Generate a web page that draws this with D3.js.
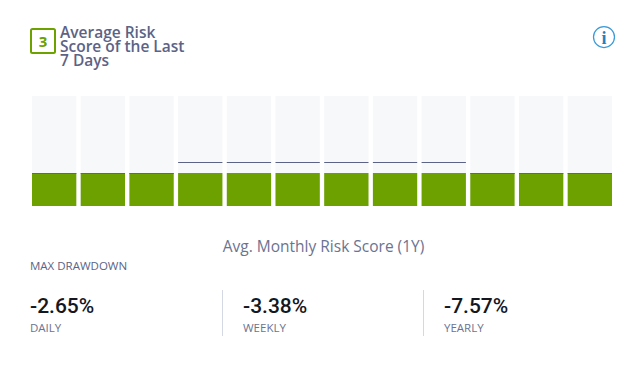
<!DOCTYPE html>
<html>
<head>
<meta charset="utf-8">
<script src="https://cdn.jsdelivr.net/npm/d3@7"></script>
<style>
	html, body { margin: 0; padding: 0; background: #fff; overflow: hidden; }
	text { font-family: "Open Sans", sans-serif; }
</style>
</head>
<body>
<div id="chart"></div>
<script>
// Monthly values
const months = ["M1", "M2", "M3", "M4", "M5", "M6", "M7", "M8", "M9", "M10", "M11", "M12"];
const barValues = [3, 3, 3, 3, 3, 3, 3, 3, 3, 3, 3, 3];
const markerValues = [3, 3, 3, 4, 4, 4, 4, 4, 4, 3, 3, 3];
const titleLines = ["Average Risk", "Score of the Last", "7 Days"];
const drawdownLabels = ["DAILY", "WEEKLY", "YEARLY"];
const drawdownValues = ["-2.65%", "-3.38%", "-7.57%"];

const width = 643,
	height = 378;

const svg = d3
	.select("#chart")
	.append("svg")
	.attr("width", width)
	.attr("height", height);

// Scales
const x = d3.scaleBand().domain(months).range([32, 612]).paddingInner(0.09);
const y = d3.scaleLinear().domain([0, 10]).range([206, 96]);

// Track behind each bar
svg
	.append("g")
	.selectAll("rect")
	.data(months)
	.join("rect")
	.attr("x", (d) => x(d))
	.attr("y", y(10))
	.attr("width", x.bandwidth())
	.attr("height", y(0) - y(10))
	.attr("fill", "#f7f8fa");

// Green bars
svg
	.append("g")
	.selectAll("rect")
	.data(barValues)
	.join("rect")
	.attr("x", (d, i) => x(months[i]))
	.attr("y", (d) => y(d))
	.attr("width", x.bandwidth())
	.attr("height", (d) => y(0) - y(d))
	.attr("fill", "#6ca100");

// Thin marker line for the monthly score
svg
	.append("g")
	.selectAll("rect")
	.data(markerValues)
	.join("rect")
	.attr("x", (d, i) => x(months[i]))
	.attr("y", (d) => y(d))
	.attr("width", x.bandwidth())
	.attr("height", 1)
	.attr("fill", "#5b6386");

// Score badge
svg
	.append("rect")
	.attr("x", 31)
	.attr("y", 29)
	.attr("width", 24)
	.attr("height", 24)
	.attr("rx", 1.5)
	.attr("fill", "none")
	.attr("stroke", "#6ca100")
	.attr("stroke-width", 2);
svg
	.append("text")
	.attr("x", 43)
	.attr("y", 47)
	.attr("text-anchor", "middle")
	.attr("font-size", 15)
	.attr("font-weight", 700)
	.attr("fill", "#6ca100")
	.text("3");

// Title
svg
	.append("g")
	.selectAll("text")
	.data(titleLines)
	.join("text")
	.attr("x", 60)
	.attr("y", (d, i) => 38 + i * 14)
	.attr("font-size", 15.5)
	.attr("font-weight", 600)
	.attr("fill", "#5b6386")
	.text((d) => d);

// Info icon
const info = svg.append("g").attr("transform", "translate(604,37)");
info
	.append("circle")
	.attr("r", 10.5)
	.attr("fill", "none")
	.attr("stroke", "#3a9ad9")
	.attr("stroke-width", 1.25);
info
	.append("text")
	.attr("text-anchor", "middle")
	.attr("y", 6.5)
	.attr("font-size", 18)
	.attr("font-weight", 700)
	.style("font-family", "'Liberation Serif', serif")
	.attr("fill", "#1f81c0")
	.text("i");

// Chart caption
svg
	.append("text")
	.attr("x", 323.5)
	.attr("y", 252)
	.attr("text-anchor", "middle")
	.attr("font-size", 15.5)
	.attr("fill", "#6b7391")
	.text("Avg. Monthly Risk Score (1Y)");

svg
	.append("text")
	.attr("x", 30)
	.attr("y", 270)
	.attr("font-size", 11.5)
	.attr("fill", "#5b6386")
	.text("MAX DRAWDOWN");

// Drawdown stats
const statX = d3.scaleOrdinal().domain(drawdownLabels).range([30, 243, 444]);

svg
	.append("g")
	.selectAll("text")
	.data(drawdownValues)
	.join("text")
	.attr("x", (d, i) => statX(drawdownLabels[i]))
	.attr("y", 313)
	.attr("font-size", 21)
	.attr("font-weight", 500)
	.style("font-family", "Roboto, sans-serif")
	.attr("fill", "#14171f")
	.text((d) => d);

svg
	.append("g")
	.selectAll("text")
	.data(drawdownLabels)
	.join("text")
	.attr("x", (d) => statX(d))
	.attr("y", 332)
	.attr("font-size", 11.5)
	.attr("fill", "#6b7391")
	.text((d) => d);

// Dividers between the stats
svg
	.append("g")
	.selectAll("line")
	.data(drawdownLabels.slice(1))
	.join("line")
	.attr("x1", (d) => statX(d) - 20.5)
	.attr("x2", (d) => statX(d) - 20.5)
	.attr("y1", 290)
	.attr("y2", 336)
	.attr("stroke", "#d3d8e3");
</script>
</body>
</html>
